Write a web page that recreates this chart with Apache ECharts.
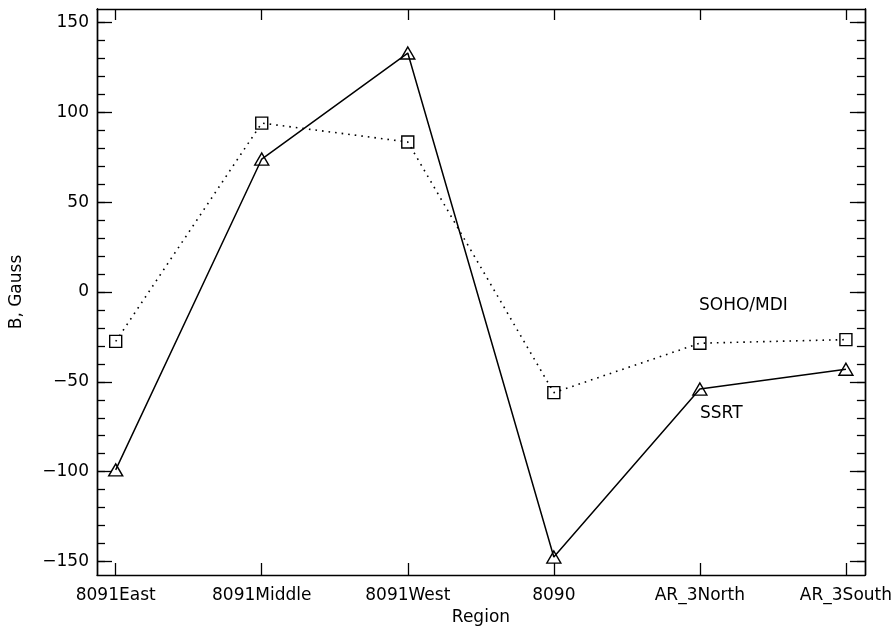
<!DOCTYPE html>
<html>
<head>
<meta charset="utf-8">
<script src="https://cdn.jsdelivr.net/npm/echarts@6/dist/echarts.min.js"></script>
<style>html,body{margin:0;padding:0;background:#fff}#c{width:895px;height:632px}</style>
</head>
<body>
<div id="c"></div>
<script>
var categories = ['8091East', '8091Middle', '8091West', '8090', 'AR_3North', 'AR_3South'];
var ssrt = [-99, 74, 133, -147.5, -54, -43];
var sohoMdi = [-27.5, 94, 83.5, -56, -28.5, -26.5];
var yMajorTicks = [-150, -100, -50, 0, 50, 100, 150];
var yMinorTicks = [-150,-140,-130,-120,-110,-100,-90,-80,-70,-60,-50,-40,-30,-20,-10,0,10,20,30,40,50,60,70,80,90,100,110,120,130,140,150];

var idx = categories.map(function (c, i) { return i; });
function pairs(vals) { return vals.map(function (v, i) { return [i, v]; }); }

var FONT = 'DejaVu Sans';
var chart = echarts.init(document.getElementById('c'));
var axLine = { show: true, onZero: false, lineStyle: { color: '#000', width: 1.4 } };
function yAx(pos, tickVals, len, showLabels) {
  return {
    type: 'value', position: pos, min: -157.5, max: 157.5,
    axisLine: axLine,
    splitLine: { show: false },
    axisTick: { show: true, inside: true, length: len, customValues: tickVals, lineStyle: { color: '#000', width: 1.3 } },
    axisLabel: showLabels ? { show: true, customValues: yMajorTicks, margin: 8, color: '#000', fontFamily: FONT, fontSize: 17,
      formatter: function (v) { return String(v).replace('-', '\u2212'); } } : { show: false }
  };
}
var yAxes = [yAx('left', yMajorTicks, 15, true), yAx('left', yMinorTicks, 8, false), yAx('right', yMajorTicks, 15, false), yAx('right', yMinorTicks, 8, false)];
yAxes[0].name = 'B, Gauss';
yAxes[0].nameLocation = 'middle';
yAxes[0].nameGap = 72;
yAxes[0].nameTextStyle = { color: '#000', fontFamily: FONT, fontSize: 17 };

var option = {
  backgroundColor: '#fff',
  animation: false,
  grid: { left: 97, right: 30, top: 9, bottom: 57 },
  xAxis: [{
    type: 'value', position: 'bottom', min: -0.128, max: 5.13,
    axisLine: axLine, splitLine: { show: false },
    axisTick: { show: true, inside: true, length: 12, customValues: idx, lineStyle: { color: '#000', width: 1.3 } },
    axisLabel: { show: true, customValues: idx, margin: 12, color: '#000', fontFamily: FONT, fontSize: 17,
      formatter: function (v) { return categories[Math.round(v)]; } },
    name: 'Region', nameLocation: 'middle', nameGap: 34,
    nameTextStyle: { color: '#000', fontFamily: FONT, fontSize: 17 }
  }, {
    type: 'value', position: 'top', min: -0.128, max: 5.13,
    axisLine: axLine, splitLine: { show: false },
    axisTick: { show: true, inside: true, length: 11, customValues: idx, lineStyle: { color: '#000', width: 1.3 } },
    axisLabel: { show: false }
  }],
  yAxis: yAxes,
  series: [{
    name: 'SOHO/MDI', type: 'line', data: pairs(sohoMdi),
    symbol: 'rect', symbolSize: 12,
    itemStyle: { color: 'rgba(255,255,255,0)', borderColor: '#000', borderWidth: 1.4 },
    lineStyle: { color: '#000', width: 1.6, type: [1.6, 5] }
  }, {
    name: 'SSRT', type: 'line', data: pairs(ssrt),
    symbol: 'triangle', symbolSize: [14, 12],
    itemStyle: { color: 'rgba(255,255,255,0)', borderColor: '#000', borderWidth: 1.4 },
    lineStyle: { color: '#000', width: 1.5 }
  }],
  graphic: [
    { type: 'text', left: 699, top: 297, style: { text: 'SOHO/MDI', fill: '#000', font: '17px "DejaVu Sans"' } },
    { type: 'text', left: 700, top: 405, style: { text: 'SSRT', fill: '#000', font: '17px "DejaVu Sans"' } }
  ]
};
chart.setOption(option);
</script>
</body>
</html>
